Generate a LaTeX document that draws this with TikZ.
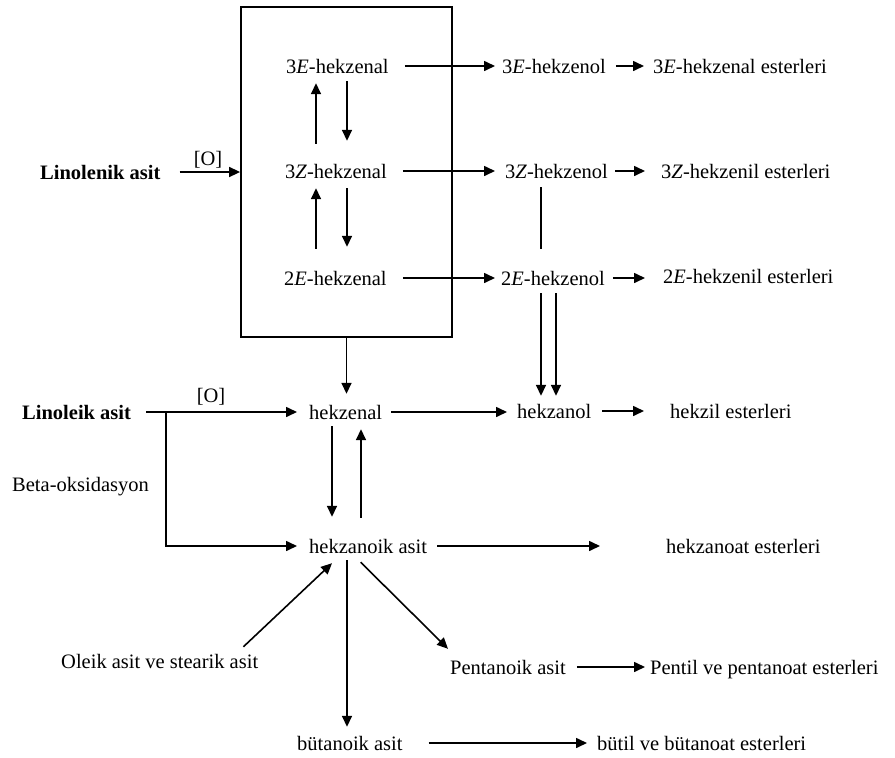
\documentclass[tikz,border=0pt]{standalone}
\usepackage{fontspec}
\setmainfont{Liberation Serif}
\usetikzlibrary{arrows.meta,calc}
\begin{document}
\begin{tikzpicture}[x=1pt,y=-1pt,
  every node/.style={font=\fontsize{20.5}{24}\selectfont, inner sep=0pt, text height=14pt, text depth=0pt},
  lbl/.style={anchor=west},
  bl/.style={anchor=west, font=\fontsize{20.5}{24}\selectfont\bfseries},
  ln/.style={line width=1.6pt},
  arr/.style={line width=1.6pt, -{Triangle[length=11pt,width=10pt]}}]
\useasboundingbox (0,0) rectangle (895,758);
% box
\node[draw, line width=1.8pt, minimum width=211pt, minimum height=330pt, text height=, text depth=] (box) at (346.5,172) {};
% nodes
\node[lbl] (e3) at (286,66) {3\textit{E}-hekzenal};
\node[lbl] (z3) at (285,171) {3\textit{Z}-hekzenal};
\node[lbl] (e2) at (284,278) {2\textit{E}-hekzenal};
\node[lbl] (ol3e) at (502,66) {3\textit{E}-hekzenol};
\node[lbl] (ol3z) at (505,171) {3\textit{Z}-hekzenol};
\node[lbl] (ol2e) at (501,278) {2\textit{E}-hekzenol};
\node[lbl] (es3e) at (653,66) {3\textit{E}-hekzenal esterleri};
\node[lbl] (es3z) at (661,171) {3\textit{Z}-hekzenil esterleri};
\node[lbl] (es2e) at (663,276) {2\textit{E}-hekzenil esterleri};
\node[bl] (linolenik) at (40,172) {Linolenik asit};
\node (o1) at (208,158) {[O]};
\node[lbl] (hekzenal) at (309,412) {hekzenal};
\node[lbl] (hekzanol) at (517,411) {hekzanol};
\node[lbl] (hekzil) at (670,411) {hekzil esterleri};
\node[bl] (linoleik) at (22,412) {Linoleik asit};
\node (o2) at (211,395) {[O]};
\node[lbl] (beta) at (12,484) {Beta-oksidasyon};
\node[lbl] (hekzanoik) at (309,546) {hekzanoik asit};
\node[lbl] (hekzanoat) at (666,546) {hekzanoat esterleri};
\node[lbl] (oleik) at (61,661) {Oleik asit ve stearik asit};
\node[lbl] (pentanoik) at (450,667) {Pentanoik asit};
\node[lbl] (pentil) at (650,667) {Pentil ve pentanoat esterleri};
\node[lbl] (butanoik) at (297,743) {bütanoik asit};
\node[lbl] (butil) at (597,743) {bütil ve bütanoat esterleri};
% helper coordinates
\coordinate (cu) at (316,0);
\coordinate (cd) at (347,0);
\coordinate (cv) at (541,0);
\coordinate (cw) at (556,0);
\coordinate (cl) at (332,0);
\coordinate (cr) at (361,0);
\coordinate (br) at (166,412);
\coordinate (t2e) at (645,0);
% connectors
\draw[arr] ([xshift=19pt]linolenik.east) -- (box.west);
\draw[arr] ([xshift=16pt]e3.east) -- ([xshift=-7pt]ol3e.west);
\draw[arr] ([xshift=16pt]z3.east) -- ([xshift=-10pt]ol3z.west);
\draw[arr] ([xshift=16pt]e2.east) -- ([xshift=-6pt]ol2e.west);
\draw[arr] ([xshift=10pt]ol3e.east) -- ([xshift=-9pt]es3e.west);
\draw[arr] ([xshift=7pt]ol3z.east) -- ([xshift=-16pt]es3z.west);
\draw[arr] ([xshift=8pt]ol2e.east) -- (t2e |- ol2e.east);
\draw[arr, shorten <=20pt, shorten >=10pt] (cu |- z3.north) -- (cu |- e3.south);
\draw[arr, shorten <=8pt, shorten >=23pt] (cd |- e3.south) -- (cd |- z3.north);
\draw[arr, shorten <=22pt, shorten >=10pt] (cu |- e2.north) -- (cu |- z3.south);
\draw[arr, shorten <=10pt, shorten >=24pt] (cd |- z3.south) -- (cd |- e2.north);
\draw[ln, shorten <=9pt, shorten >=22pt] (cv |- ol3z.south) -- (cv |- ol2e.north);
\draw[arr, shorten <=8pt, shorten >=8pt] (cv |- ol2e.south) -- (cv |- hekzanol.north);
\draw[arr, shorten <=8pt, shorten >=8pt] (cw |- ol2e.south) -- (cw |- hekzanol.north);
\draw[arr, shorten >=11pt] (box.south) -- (box.south |- hekzenal.north);
\draw[arr] ([xshift=15pt]linoleik.east) -- ([xshift=-12pt]hekzenal.west);
\draw[arr] (br) |- ([xshift=-12pt]hekzanoik.west);
\draw[arr] ([xshift=9pt]hekzenal.east) -- ([xshift=-10pt]hekzanol.west |- hekzenal.east);
\draw[arr] ([xshift=11pt]hekzanol.east) -- ([xshift=-26pt]hekzil.west);
\draw[arr, shorten <=7pt, shorten >=22pt] (cl |- hekzenal.south) -- (cl |- hekzanoik.north);
\draw[arr, shorten <=21pt, shorten >=10pt] (cr |- hekzanoik.north) -- (cr |- hekzenal.south);
\draw[arr] ([xshift=10pt]hekzanoik.east) -- ([xshift=-66pt]hekzanoat.west);
\draw[arr] ([shift={(-15,-7)}]oleik.north east) -- ([shift={(23,10)}]hekzanoik.south west);
\draw[arr] ([shift={(-7.5,9)}]hekzanoik.south) -- ([shift={(-2,-11)}]pentanoik.north west);
\draw[arr, shorten <=7pt, shorten >=9pt] (cd |- hekzanoik.south) -- (cd |- butanoik.north);
\draw[arr] ([xshift=11pt]pentanoik.east) -- ([xshift=-5pt]pentil.west);
\draw[arr] ([xshift=26pt]butanoik.east) -- ([xshift=-10pt]butil.west);
\end{tikzpicture}
\end{document}
